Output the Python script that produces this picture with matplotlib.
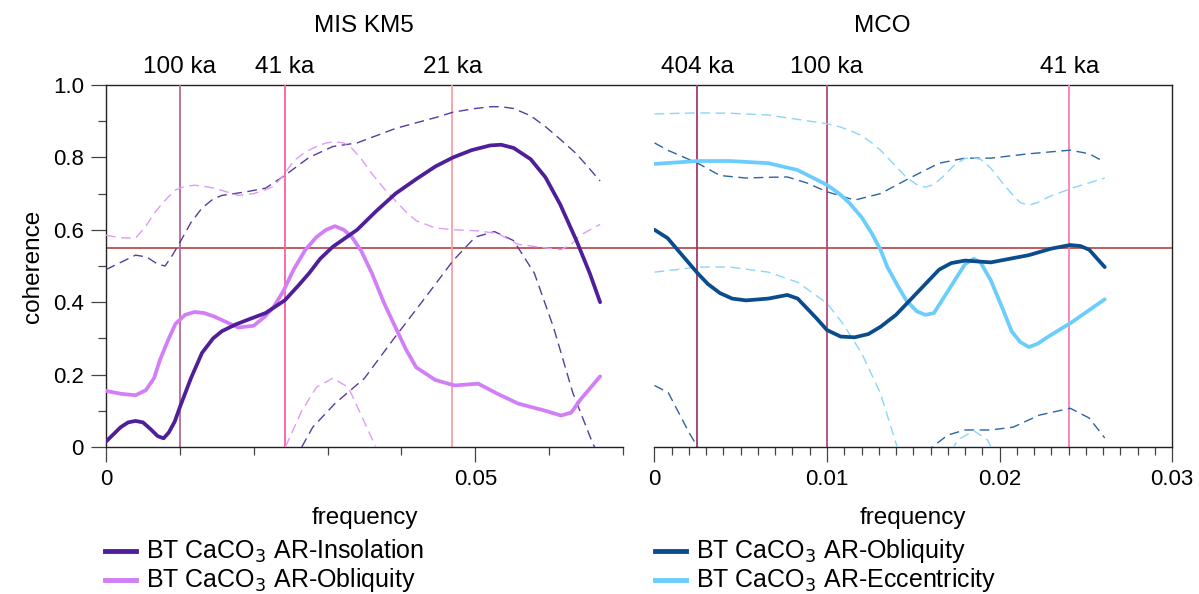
import matplotlib
matplotlib.use("Agg")
import matplotlib.pyplot as plt
from matplotlib.lines import Line2D
from matplotlib.ticker import MultipleLocator, FixedLocator

plt.rcParams["font.family"] = ["Liberation Sans", "DejaVu Sans"]

# ---------------- MIS KM5 (left) ----------------
km5_ins_f = [0.0, 0.001, 0.002, 0.003, 0.004, 0.005, 0.006, 0.007, 0.0078, 0.0085, 0.0093,
             0.010, 0.0115, 0.013, 0.0145, 0.0157, 0.0175, 0.019, 0.0216, 0.0242, 0.026,
             0.0275, 0.029, 0.0307, 0.034, 0.0365, 0.0392, 0.042, 0.0446, 0.047, 0.0495,
             0.052, 0.0535, 0.0552, 0.0575, 0.0595, 0.0615, 0.0637, 0.0655, 0.0669]
km5_ins_c = [0.015, 0.035, 0.055, 0.068, 0.072, 0.068, 0.05, 0.03, 0.024, 0.04, 0.07,
             0.11, 0.19, 0.26, 0.30, 0.32, 0.338, 0.35, 0.37, 0.405, 0.445,
             0.48, 0.52, 0.553, 0.60, 0.65, 0.70, 0.74, 0.775, 0.80, 0.82,
             0.833, 0.835, 0.826, 0.795, 0.745, 0.67, 0.57, 0.48, 0.40]
km5_ins_hi_f = [0.0, 0.002, 0.004, 0.0055, 0.007, 0.008, 0.009, 0.010, 0.0115, 0.013, 0.0145,
                0.0157, 0.019, 0.0216, 0.0242, 0.0275, 0.0307, 0.034, 0.0392, 0.0446, 0.047,
                0.050, 0.052, 0.0535, 0.0552, 0.0575, 0.0595, 0.0615, 0.0637, 0.0669]
km5_ins_hi = [0.49, 0.51, 0.53, 0.525, 0.505, 0.50, 0.53, 0.565, 0.62, 0.66, 0.685, 0.695,
              0.705, 0.715, 0.75, 0.80, 0.83, 0.84, 0.88, 0.91, 0.925, 0.935, 0.94, 0.94,
              0.935, 0.915, 0.885, 0.85, 0.81, 0.735]
km5_ins_lo_f = [0.0265, 0.028, 0.031, 0.035, 0.039, 0.0435, 0.047, 0.050, 0.0526, 0.0552,
                0.058, 0.0606, 0.0632, 0.0659, 0.0669]
km5_ins_lo_c = [0.0, 0.055, 0.12, 0.19, 0.30, 0.42, 0.515, 0.58, 0.595, 0.57,
                0.48, 0.33, 0.15, 0.01, -0.03]

km5_obl_f = [0.0, 0.002, 0.004, 0.0054, 0.0065, 0.0073, 0.0084, 0.0094, 0.0107, 0.012,
             0.0133, 0.0147, 0.0163, 0.0179, 0.020, 0.0215, 0.0227, 0.024, 0.0254, 0.027,
             0.0285, 0.0298, 0.031, 0.0322, 0.0333, 0.0346, 0.036, 0.0376, 0.0392, 0.0406,
             0.042, 0.0446, 0.0472, 0.0504, 0.053, 0.0558, 0.0595, 0.0616, 0.063, 0.0642,
             0.0669]
km5_obl_c = [0.155, 0.147, 0.143, 0.157, 0.19, 0.24, 0.295, 0.34, 0.365, 0.373,
             0.37, 0.36, 0.345, 0.33, 0.335, 0.36, 0.387, 0.43, 0.49, 0.545,
             0.58, 0.60, 0.61, 0.60, 0.58, 0.54, 0.48, 0.40, 0.33, 0.27,
             0.22, 0.185, 0.17, 0.175, 0.147, 0.12, 0.10, 0.087, 0.095, 0.13,
             0.195]
km5_obl_hi = [0.585, 0.578, 0.577, 0.61, 0.645, 0.665, 0.69, 0.71, 0.72, 0.723,
              0.72, 0.715, 0.705, 0.695, 0.70, 0.71, 0.72, 0.75, 0.79, 0.815,
              0.83, 0.84, 0.843, 0.84, 0.825, 0.795, 0.755, 0.715, 0.68, 0.65,
              0.625, 0.605, 0.60, 0.597, 0.59, 0.56, 0.55, 0.545, 0.56, 0.585,
              0.615]
km5_obl_lo_f = [0.0243, 0.0265, 0.0285, 0.0307, 0.0328, 0.0344, 0.0363, 0.037]
km5_obl_lo_c = [0.0, 0.10, 0.165, 0.19, 0.165, 0.095, 0.01, -0.02]

# ---------------- MCO (right) ----------------
mco_obl_f = [0.0, 0.00076, 0.0016, 0.0025, 0.0031, 0.0038, 0.0045, 0.0053, 0.0066, 0.0077,
             0.0083, 0.0088, 0.0094, 0.010, 0.0108, 0.0116, 0.0124, 0.0131, 0.014, 0.0148,
             0.0157, 0.0165, 0.0172, 0.018, 0.0195, 0.0217, 0.023, 0.0241, 0.0247, 0.0252,
             0.0261]
mco_obl_c = [0.60, 0.577, 0.53, 0.48, 0.45, 0.425, 0.41, 0.405, 0.41, 0.42,
             0.41, 0.385, 0.355, 0.323, 0.305, 0.303, 0.312, 0.332, 0.365, 0.405,
             0.45, 0.49, 0.508, 0.515, 0.51, 0.53, 0.548, 0.558, 0.555, 0.545,
             0.497]
mco_obl_hi_f = [0.0, 0.00076, 0.0025, 0.0038, 0.0053, 0.0066, 0.0077, 0.0088, 0.010, 0.0116,
                0.0131, 0.0148, 0.0165, 0.018, 0.0195, 0.0217, 0.0241, 0.0252, 0.0261]
mco_obl_hi = [0.84, 0.82, 0.784, 0.75, 0.743, 0.745, 0.746, 0.73, 0.705, 0.682,
              0.70, 0.743, 0.784, 0.798, 0.798, 0.81, 0.82, 0.81, 0.787]
mco_obl_lo1_f = [0.0, 0.0008, 0.0014, 0.002, 0.0025, 0.0028]
mco_obl_lo1_c = [0.17, 0.15, 0.095, 0.04, 0.0, -0.02]
mco_obl_lo2_f = [0.0158, 0.0161, 0.017, 0.018, 0.0195, 0.0208, 0.0223, 0.0241, 0.0252, 0.0261]
mco_obl_lo2_c = [-0.02, 0.0, 0.033, 0.047, 0.047, 0.055, 0.088, 0.107, 0.08, 0.025]

mco_ecc_f = [0.0, 0.0025, 0.0044, 0.0066, 0.0083, 0.010, 0.0107, 0.0113, 0.012, 0.0126,
             0.0131, 0.0135, 0.0141, 0.0146, 0.0152, 0.0157, 0.0162, 0.0168, 0.0174, 0.018,
             0.0185, 0.0189, 0.0195, 0.0202, 0.0207, 0.0212, 0.0217, 0.0222, 0.0228,
             0.0242, 0.0261]
mco_ecc_c = [0.782, 0.79, 0.79, 0.784, 0.765, 0.724, 0.70, 0.674, 0.635, 0.59,
             0.545, 0.497, 0.445, 0.405, 0.375, 0.365, 0.37, 0.415, 0.46, 0.505,
             0.52, 0.51, 0.46, 0.38, 0.32, 0.29, 0.276, 0.285, 0.304,
             0.345, 0.408]
mco_ecc_hi = [0.92, 0.923, 0.922, 0.917, 0.905, 0.893, 0.885, 0.875, 0.86, 0.84,
              0.82, 0.80, 0.77, 0.745, 0.725, 0.718, 0.725, 0.75, 0.78, 0.797,
              0.798, 0.795, 0.77, 0.728, 0.70, 0.675, 0.668, 0.675, 0.69,
              0.715, 0.743]
mco_ecc_lo1_f = [0.0, 0.0025, 0.0044, 0.0066, 0.0083, 0.010, 0.0109, 0.012, 0.0131, 0.014, 0.0143]
mco_ecc_lo1_c = [0.483, 0.497, 0.497, 0.483, 0.455, 0.397, 0.342, 0.26, 0.148, 0.01, -0.03]
mco_ecc_lo2_f = [0.0172, 0.0176, 0.0185, 0.0193, 0.0196]
mco_ecc_lo2_c = [-0.01, 0.02, 0.045, 0.02, -0.01]

# Orbital periods marked on each panel
km5_periods = [("100 ka", 0.0100), ("41 ka", 0.0242), ("21 ka", 0.0469)]
mco_periods = [("404 ka", 0.002475), ("100 ka", 0.0100), ("41 ka", 0.02404)]
km5_period_colors = ["#b36b93", "#ff5fa2", "#f7a0a6"]
mco_period_colors = ["#a2386f", "#b04a80", "#ff7ab8"]

significance = 0.55

c_ins = "#4e1f98"
c_obl_km5 = "#d27ff7"
c_obl_mco = "#0b4c8c"
c_ecc = "#6bcdfb"
c_ins_d = "#5a3a9e"
c_obl_km5_d = "#dc9cf7"
c_obl_mco_d = "#2d64a3"
c_ecc_d = "#8ad6fb"

W, H = 1199, 594
fig = plt.figure(figsize=(W / 100, H / 100), dpi=100)


def fx(px):
    return px / W


def fy(py):
    return 1 - py / H


top_px, bot_px = 85, 447
left_px, right_px = 106, 1172
lw_solid = 2.7
lw_dash = 1.0
dash = (7, 4)
fs_tick = 16
fs_text = 17.5

# frame axes: y axis, top and right borders, significance level
frame = fig.add_axes([fx(left_px), fy(bot_px), fx(right_px - left_px), (bot_px - top_px) / H])
frame.set_xlim(0, 1)
frame.set_ylim(0, 1)
frame.spines["bottom"].set_visible(False)
for s in ["left", "top", "right"]:
    frame.spines[s].set_linewidth(1.0)
    frame.spines[s].set_color("#222222")
frame.set_xticks([])
frame.set_yticks([0, 0.2, 0.4, 0.6, 0.8, 1.0])
frame.set_yticklabels(["0", "0.2", "0.4", "0.6", "0.8", "1.0"])
frame.yaxis.set_minor_locator(MultipleLocator(0.1))
frame.tick_params(axis="y", which="major", direction="out", length=11, width=0.9,
                  labelsize=fs_tick, pad=5, color="#444444")
frame.tick_params(axis="y", which="minor", direction="out", length=6, width=0.9, color="#444444")
frame.axhline(significance, color="#b8403c", lw=1.2, zorder=1)
frame.set_ylabel("coherence", fontsize=fs_text, labelpad=6)


def panel(x0_px, x1_px, xmax):
    ax = fig.add_axes([fx(x0_px), fy(bot_px), fx(x1_px - x0_px), (bot_px - top_px) / H])
    ax.patch.set_alpha(0)
    ax.set_xlim(0, xmax)
    ax.set_ylim(0, 1)
    for s in ["left", "top", "right"]:
        ax.spines[s].set_visible(False)
    ax.spines["bottom"].set_linewidth(1.0)
    ax.spines["bottom"].set_color("#222222")
    ax.set_yticks([])
    ax.tick_params(axis="x", which="major", direction="out", length=11, width=0.9,
                   labelsize=fs_tick, pad=5, color="#444444")
    ax.tick_params(axis="x", which="minor", direction="out", length=6, width=0.9, color="#444444")
    ax.set_xlabel("frequency", fontsize=fs_text, labelpad=12)
    return ax


axL = panel(106, 623, 0.07)
axL.xaxis.set_major_locator(FixedLocator([0, 0.05]))
axL.set_xticklabels(["0", "0.05"])
axL.xaxis.set_minor_locator(FixedLocator([0.01, 0.02, 0.03, 0.04, 0.06, 0.07]))

axR = panel(654.5, 1172, 0.03)
axR.xaxis.set_major_locator(FixedLocator([0, 0.01, 0.02, 0.03]))
axR.set_xticklabels(["0", "0.01", "0.02", "0.03"])
axR.xaxis.set_minor_locator(MultipleLocator(0.001))

for ax, periods, cols in [(axL, km5_periods, km5_period_colors),
                          (axR, mco_periods, mco_period_colors)]:
    for (lab, f), c in zip(periods, cols):
        ax.axvline(f, color=c, lw=1.3, zorder=1)
        ax.text(f, 1 + 18 / 362, lab, transform=ax.get_xaxis_transform(),
                ha="center", va="center", fontsize=fs_text)

# MIS KM5 curves
axL.plot(km5_ins_hi_f, km5_ins_hi, color=c_ins_d, lw=lw_dash, dashes=dash, zorder=3)
axL.plot(km5_ins_lo_f, km5_ins_lo_c, color=c_ins_d, lw=lw_dash, dashes=dash, zorder=3)
axL.plot(km5_obl_f, km5_obl_hi, color=c_obl_km5_d, lw=lw_dash, dashes=dash, zorder=3)
axL.plot(km5_obl_lo_f, km5_obl_lo_c, color=c_obl_km5_d, lw=lw_dash, dashes=dash, zorder=3)
axL.plot(km5_obl_f, km5_obl_c, color=c_obl_km5, lw=lw_solid, zorder=4,
         solid_joinstyle="round", solid_capstyle="round")
axL.plot(km5_ins_f, km5_ins_c, color=c_ins, lw=lw_solid, zorder=5,
         solid_joinstyle="round", solid_capstyle="round")

# MCO curves
axR.plot(mco_obl_hi_f, mco_obl_hi, color=c_obl_mco_d, lw=lw_dash, dashes=dash, zorder=3)
axR.plot(mco_obl_lo1_f, mco_obl_lo1_c, color=c_obl_mco_d, lw=lw_dash, dashes=dash, zorder=3)
axR.plot(mco_obl_lo2_f, mco_obl_lo2_c, color=c_obl_mco_d, lw=lw_dash, dashes=dash, zorder=3)
axR.plot(mco_ecc_f, mco_ecc_hi, color=c_ecc_d, lw=lw_dash, dashes=dash, zorder=3)
axR.plot(mco_ecc_lo1_f, mco_ecc_lo1_c, color=c_ecc_d, lw=lw_dash, dashes=dash, zorder=3)
axR.plot(mco_ecc_lo2_f, mco_ecc_lo2_c, color=c_ecc_d, lw=lw_dash, dashes=dash, zorder=3)
axR.plot(mco_ecc_f, mco_ecc_c, color=c_ecc, lw=lw_solid, zorder=4,
         solid_joinstyle="round", solid_capstyle="round")
axR.plot(mco_obl_f, mco_obl_c, color=c_obl_mco, lw=lw_solid, zorder=5,
         solid_joinstyle="round", solid_capstyle="round")

# panel titles
fig.text(fx(364), fy(26), "MIS KM5", ha="center", va="center", fontsize=fs_text)
fig.text(fx(882), fy(26), "MCO", ha="center", va="center", fontsize=fs_text)

# legends
legend_rows = [
    (105, 551, c_ins, "BT CaCO$_3$ AR-Insolation"),
    (105, 580, c_obl_km5, "BT CaCO$_3$ AR-Obliquity"),
    (655, 551, c_obl_mco, "BT CaCO$_3$ AR-Obliquity"),
    (655, 580, c_ecc, "BT CaCO$_3$ AR-Eccentricity"),
]
for x0, y0, c, lab in legend_rows:
    fig.add_artist(Line2D([fx(x0), fx(x0 + 31)], [fy(y0), fy(y0)], color=c, lw=3.5,
                          transform=fig.transFigure))
    fig.text(fx(x0 + 41), fy(y0), lab, ha="left", va="center", fontsize=18)

fig.savefig("out.png", dpi=100)
